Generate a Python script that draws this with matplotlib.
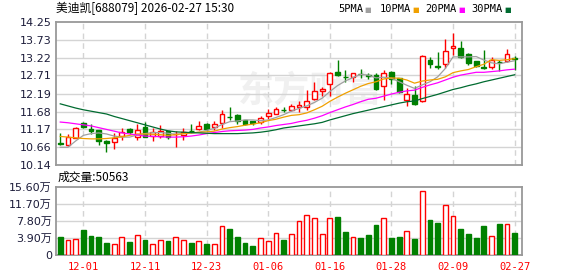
import numpy as np
import matplotlib
matplotlib.use("Agg")
import matplotlib.pyplot as plt

# font list: latin first, CJK as fallback
plt.rcParams['font.family'] = ['DejaVu Sans', 'Noto Sans CJK SC']

# ---- data ----
dates_lbl = ["12-01", "12-11", "12-23", "01-06", "01-16", "01-28", "02-09", "02-27"]
date_pos = [3, 11, 19, 27, 35, 43, 51, 59]

opens = [10.78, 10.72, 10.93, 11.35, 11.18, 11.14, 10.84, 10.81, 10.97, 11.17,
         10.94, 11.24, 10.99, 10.98, 11.12, 11.04, 11.02, 11.13, 11.19, 11.33,
         11.23, 11.35, 11.52, 11.59, 11.43, 11.40, 11.37, 11.54, 11.62, 11.73,
         11.73, 11.82, 11.81, 12.04, 12.28, 12.47, 12.82, 12.67, 12.68, 12.76,
         12.73, 12.71, 12.42, 12.81, 12.64, 12.00, 12.14, 11.99, 13.14, 12.98,
         13.03, 13.50, 13.49, 13.32, 13.11, 12.96, 12.96, 13.10, 13.11, 13.22]
closes = [10.76, 10.94, 11.21, 11.24, 11.12, 10.85, 10.78, 10.93, 11.09, 11.09,
          11.16, 10.96, 11.09, 11.12, 10.95, 11.04, 11.09, 11.12, 11.28, 11.19,
          11.33, 11.61, 11.52, 11.40, 11.33, 11.34, 11.50, 11.64, 11.75, 11.73,
          11.85, 11.86, 11.99, 12.27, 12.33, 12.78, 12.71, 12.67, 12.77, 12.74,
          12.70, 12.33, 12.78, 12.61, 12.24, 12.19, 11.90, 13.27, 13.04, 12.95,
          13.41, 13.55, 13.23, 13.06, 12.99, 12.91, 13.14, 13.08, 13.32, 13.18]
highs = [11.08, 11.05, 11.24, 11.37, 11.33, 11.16, 10.86, 11.07, 11.21, 11.22,
         11.33, 11.38, 11.22, 11.29, 11.13, 11.12, 11.21, 11.33, 11.41, 11.35,
         11.40, 11.73, 11.80, 11.61, 11.45, 11.41, 11.56, 11.75, 11.82, 11.80,
         11.90, 11.97, 12.30, 12.51, 12.38, 12.82, 13.15, 12.87, 12.79, 12.89,
         12.79, 12.78, 12.87, 12.83, 12.65, 12.35, 12.40, 13.30, 13.23, 13.39,
         13.75, 13.93, 13.70, 13.35, 13.13, 13.44, 13.25, 13.16, 13.47, 13.27]
lows = [10.72, 10.70, 10.92, 11.21, 11.03, 10.72, 10.52, 10.60, 10.88, 11.05,
        10.87, 10.95, 10.85, 10.93, 10.90, 10.66, 10.88, 11.06, 11.14, 11.12,
        11.16, 11.21, 11.45, 11.33, 11.30, 11.29, 11.33, 11.47, 11.60, 11.66,
        11.69, 11.66, 11.73, 12.02, 12.11, 12.11, 12.70, 12.52, 12.52, 12.63,
        12.61, 12.30, 12.00, 12.46, 12.22, 11.83, 11.87, 11.96, 12.92, 12.89,
        12.92, 13.30, 13.20, 13.01, 12.95, 12.89, 12.89, 12.85, 13.09, 12.87]

# volume in 万 (10k)
volume = [4.20, 3.44, 3.67, 5.73, 4.36, 4.20, 2.83, 2.52, 4.13, 3.06,
          4.59, 3.44, 2.52, 3.44, 3.21, 4.20, 3.50, 2.83, 3.21, 2.52,
          2.52, 6.65, 6.04, 4.20, 2.83, 2.06, 3.90, 3.21, 4.97, 3.44,
          4.82, 7.80, 9.17, 8.41, 4.82, 8.41, 8.72, 5.35, 4.13, 3.98,
          4.59, 6.88, 8.41, 3.98, 4.20, 5.50, 3.67, 14.68, 8.03, 7.41,
          11.47, 8.94, 6.04, 4.82, 3.98, 6.65, 4.36, 7.11, 7.11, 5.05]

ma5 = [10.66, 10.66, 10.84, 11.00, 11.05, 11.07, 11.04, 10.98, 10.95, 10.95,
       11.01, 11.05, 11.08, 11.08, 11.06, 11.03, 11.05, 11.06, 11.09, 11.14,
       11.20, 11.31, 11.39, 11.41, 11.44, 11.44, 11.42, 11.44, 11.51, 11.59,
       11.69, 11.77, 11.84, 11.94, 12.06, 12.25, 12.42, 12.55, 12.65, 12.74,
       12.72, 12.64, 12.66, 12.63, 12.53, 12.43, 12.34, 12.44, 12.53, 12.67,
       12.91, 13.24, 13.24, 13.24, 13.25, 13.15, 13.07, 13.04, 13.09, 13.13]
ma10 = [10.97, 10.95, 10.93, 10.91, 10.90, 10.90, 10.91, 10.93, 10.96, 11.00,
        11.04, 11.04, 11.03, 11.02, 11.00, 11.02, 11.05, 11.07, 11.09, 11.10,
        11.12, 11.18, 11.22, 11.25, 11.29, 11.32, 11.36, 11.42, 11.46, 11.52,
        11.57, 11.59, 11.64, 11.73, 11.83, 11.97, 12.09, 12.20, 12.30, 12.40,
        12.48, 12.53, 12.61, 12.64, 12.63, 12.58, 12.49, 12.55, 12.58, 12.60,
        12.67, 12.79, 12.84, 12.88, 12.96, 13.03, 13.16, 13.14, 13.16, 13.19]
ma20 = [11.38, 11.36, 11.33, 11.30, 11.27, 11.22, 11.17, 11.12, 11.07, 11.04,
        11.01, 10.98, 10.97, 10.96, 10.95, 10.95, 10.96, 10.98, 11.01, 11.05,
        11.08, 11.11, 11.13, 11.14, 11.15, 11.17, 11.21, 11.24, 11.28, 11.31,
        11.34, 11.39, 11.43, 11.49, 11.56, 11.65, 11.73, 11.81, 11.88, 11.96,
        12.03, 12.06, 12.12, 12.18, 12.23, 12.27, 12.29, 12.37, 12.44, 12.50,
        12.58, 12.66, 12.72, 12.76, 12.80, 12.80, 12.82, 12.84, 12.87, 12.89]
ma30 = [11.90, 11.84, 11.78, 11.73, 11.69, 11.65, 11.61, 11.54, 11.48, 11.42,
        11.36, 11.30, 11.24, 11.18, 11.13, 11.10, 11.09, 11.08, 11.07, 11.06,
        11.05, 11.05, 11.05, 11.05, 11.06, 11.07, 11.09, 11.12, 11.16, 11.21,
        11.24, 11.27, 11.30, 11.33, 11.37, 11.44, 11.50, 11.56, 11.62, 11.67,
        11.72, 11.77, 11.82, 11.87, 11.92, 11.96, 11.98, 12.05, 12.11, 12.17,
        12.24, 12.31, 12.36, 12.42, 12.47, 12.53, 12.58, 12.63, 12.68, 12.73]

price_ticks = [10.14, 10.66, 11.17, 11.68, 12.19, 12.71, 13.22, 13.73, 14.25]
vol_ticks = [0, 3.90, 7.80, 11.70, 15.60]
vol_tick_lbl = ["0", "3.90万", "7.80万", "11.70万", "15.60万"]

RED = "#ff0000"
GREEN = "#008000"
GRID = "#d4d4d4"
BORDER = "#999999"
LBL = "#1c1c3a"

x = np.arange(len(closes))
o = np.array(opens)
c = np.array(closes)
prev = np.concatenate([[c[0]], c[:-1]])
# up if close > open; flat candle compares with previous close
up = (c > o) | ((c == o) & (c >= prev))
col = np.where(up, RED, GREEN)
face = np.where(up, "white", GREEN)

fig = plt.figure(figsize=(5.78, 2.76), dpi=100)
ax = fig.add_axes([0.0969, 0.4004, 0.8062, 0.5217])
axv = fig.add_axes([0.0969, 0.0761, 0.8062, 0.2464], sharex=ax)

# watermark
ax.text(0.545, 0.52, "东方财富", transform=ax.transAxes, ha="center", va="center",
        fontsize=26, fontweight="bold", color="#f0f0f0", family=["Noto Sans CJK SC"],
        style="italic", zorder=0)

# candles
ax.vlines(x, lows, highs, colors=col, lw=1, zorder=3)
body_h = np.maximum(np.abs(c - o), 0.006)
ax.bar(x, body_h, bottom=np.minimum(o, c), width=0.62, color=face,
       edgecolor=col, lw=1, zorder=4)

# moving averages
ax.plot(x, ma5, color="#a0a0a0", lw=0.9, zorder=5)
ax.plot(x, ma10, color="#f0a000", lw=0.9, zorder=5)
ax.plot(x, ma20, color="#ff00ff", lw=0.9, zorder=5)
ax.plot(x, ma30, color="#006b30", lw=0.9, zorder=5)

ax.set_ylim(price_ticks[0], price_ticks[-1])
ax.set_yticks(price_ticks)
ax.set_yticklabels(["%.2f" % v for v in price_ticks])
ax.set_xlim(-0.55, 59.95)
for v in price_ticks[1:-1]:
    ax.axhline(v, color=GRID, lw=1, zorder=1)
for p in date_pos:
    ax.axvline(p, color=GRID, lw=1, ls=(0, (4, 3)), zorder=1)
ax.tick_params(axis="x", bottom=False, labelbottom=False)
ax.tick_params(axis="y", length=0, pad=3, labelsize=8, labelcolor=LBL)

# volume bars
axv.bar(x, volume, width=0.62, color=face, edgecolor=col, lw=1, zorder=3)
axv.set_ylim(0, 15.60)
axv.set_yticks(vol_ticks)
axv.set_yticklabels(vol_tick_lbl)
for v in vol_ticks[1:-1]:
    axv.axhline(v, color=GRID, lw=1, zorder=1)
for p in date_pos:
    axv.axvline(p, color=GRID, lw=1, ls=(0, (4, 3)), zorder=1)
axv.set_xticks(date_pos)
axv.set_xticklabels(dates_lbl, family="DejaVu Sans Mono", fontsize=7.5, color=RED)
axv.tick_params(axis="x", length=0, pad=5)
axv.tick_params(axis="y", length=0, pad=3, labelsize=8, labelcolor=LBL)

for a in (ax, axv):
    for s in a.spines.values():
        s.set_color(BORDER)
        s.set_linewidth(1.3)

# header texts
fig.text(0.097, 0.97, "美迪凯[688079] 2026-02-27 15:30", ha="left", va="center",
         fontsize=8.5, family=["Noto Sans CJK SC"], color="black")
legend_items = [("5PMA", "#a0a0a0", 0.586), ("10PMA", "#f0a000", 0.657),
                ("20PMA", "#ff00ff", 0.735), ("30PMA", "#006b30", 0.815)]
for name, clr, xp in legend_items:
    fig.text(xp, 0.968, name, ha="left", va="center", fontsize=7.5,
             family="DejaVu Sans Mono", color="black")
fig.text(0.630, 0.962, "■", ha="left", va="center", fontsize=5, color="#a0a0a0")
fig.text(0.713, 0.962, "■", ha="left", va="center", fontsize=5, color="#f0a000")
fig.text(0.793, 0.962, "■", ha="left", va="center", fontsize=5, color="#ff00ff")
fig.text(0.873, 0.962, "■", ha="left", va="center", fontsize=5, color="#006b30")
fig.text(0.099, 0.356, "成交量:50563", ha="left", va="center", fontsize=8.5,
         family=["Noto Sans CJK SC"], color="black")

plt.savefig("out.png", dpi=100)
